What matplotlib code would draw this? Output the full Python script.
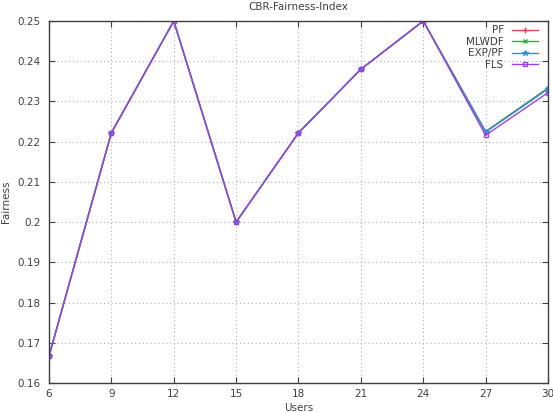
import matplotlib
matplotlib.use("Agg")
import matplotlib.pyplot as plt

users = [6, 9, 12, 15, 18, 21, 24, 27, 30]
pf = [0.1667, 0.2222, 0.25, 0.2, 0.2222, 0.238, 0.25, 0.2225, 0.2333]
mlwdf = [0.1667, 0.2222, 0.25, 0.2, 0.2222, 0.238, 0.25, 0.2225, 0.2333]
exppf = [0.1667, 0.2222, 0.25, 0.2, 0.2222, 0.238, 0.25, 0.2224, 0.2331]
fls = [0.1667, 0.2222, 0.25, 0.2, 0.2222, 0.238, 0.25, 0.2216, 0.2322]
yticks = [0.16, 0.17, 0.18, 0.19, 0.2, 0.21, 0.22, 0.23, 0.24, 0.25]
ytick_labels = ["0.16", "0.17", "0.18", "0.19", "0.2", "0.21", "0.22", "0.23", "0.24", "0.25"]

fig = plt.figure(figsize=(5.53, 4.12), dpi=100)
ax = fig.add_axes([49/553, 1-383/412, (548-49)/553, (383-21)/412])

ax.plot(users, pf, color='#e8405a', lw=1, marker='+', ms=4, mew=1, label='PF')
ax.plot(users, mlwdf, color='#30b040', lw=1, marker='x', ms=3.5, mew=1, label='MLWDF')
ax.plot(users, exppf, color='#3090e0', lw=1, marker='*', ms=4, mew=0.8, label='EXP/PF')
ax.plot(users, fls, color='#a040e8', lw=1, marker='s', ms=3.5, mew=1, mfc='none', label='FLS')

ax.set_xlim(6, 30)
ax.set_ylim(0.16, 0.25)
ax.set_xticks(users)
ax.set_yticks(yticks)
ax.set_yticklabels(ytick_labels)
ax.tick_params(direction='in', top=True, right=True, labelsize=7.5, colors='#404040', length=4)
ax.tick_params(axis='x', pad=4)
ax.tick_params(axis='y', pad=6)
for lab in ax.get_xticklabels() + ax.get_yticklabels():
    lab.set_color('#404040')
ax.grid(True, linestyle=(0, (1, 2.5)), color='#b0b0b0', lw=0.8)
for s in ax.spines.values():
    s.set_color('#404040')
    s.set_linewidth(1)

ax.set_title('CBR-Fairness-Index', fontsize=7.5, color='#404040', pad=8)
ax.set_xlabel('Users', fontsize=7.5, color='#404040', labelpad=3)
ax.set_ylabel('Fairness', fontsize=7.5, color='#404040', labelpad=5)

leg = ax.legend(loc='upper right', frameon=False, markerfirst=False, fontsize=7.5,
                handlelength=2.5, labelspacing=0.15, borderpad=0, borderaxespad=0,
                handletextpad=0.8, bbox_to_anchor=(0.98, 0.988))
for t in leg.get_texts():
    t.set_color('#404040')

fig.savefig('out.png', dpi=100)
